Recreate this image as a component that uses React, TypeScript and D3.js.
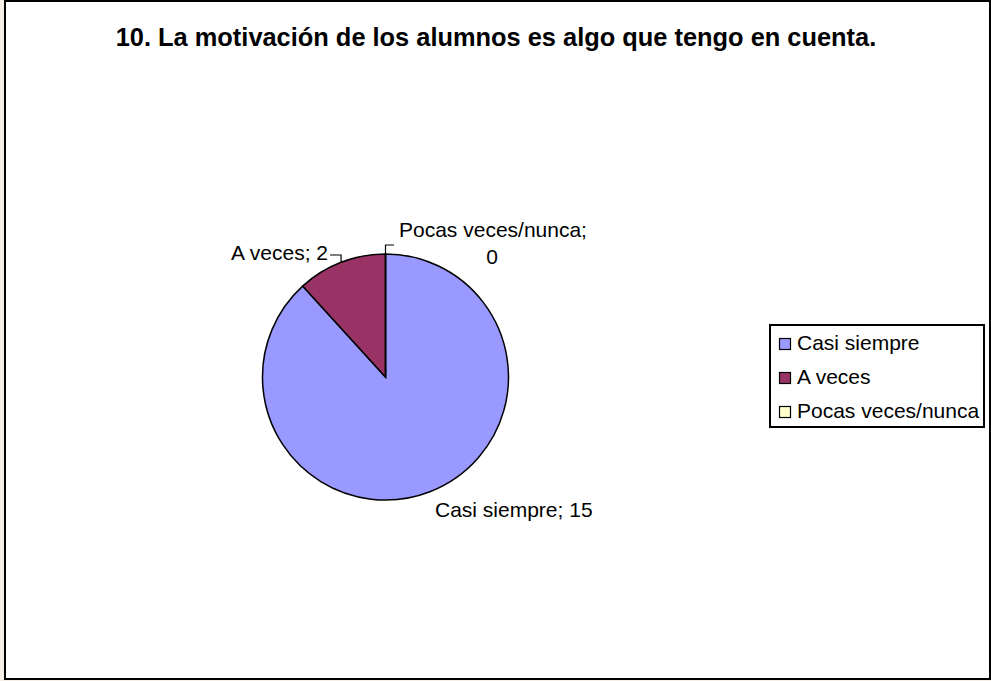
import React from "react";
import * as d3 from "d3";

const categories = ["Casi siempre", "A veces", "Pocas veces/nunca"];
const values = [15, 2, 0];
const colors = ["#9999FF", "#993366", "#FFFFCC"];
const title = "10. La motivación de los alumnos es algo que tengo en cuenta.";

const W = 991;
const H = 681;
const FONT = "'Liberation Sans', Arial, sans-serif";

export default function App() {
  const cx = 385.5;
  const cy = 377;
  const r = 123;
  const pie = d3
    .pie<number>()
    .sort(null)
    .startAngle(0)
    .endAngle(2 * Math.PI)
    .value((d) => d);
  const arcs = pie(values);
  const arcGen = d3.arc<d3.PieArcDatum<number>>().innerRadius(0).outerRadius(r);

  const pt = (a: number, rad: number) => [cx + rad * Math.sin(a), cy - rad * Math.cos(a)];
  const mid = (d: d3.PieArcDatum<number>) => (d.startAngle + d.endAngle) / 2;

  const aV = arcs[1];
  const pV = arcs[2];
  const [ax, ay] = pt(mid(aV), r);
  const [px, py] = pt(mid(pV), r);

  const legendX = 770;
  const legendY = 325;
  const legendW = 214;
  const legendH = 102;
  const rowH = 34;

  return (
    <svg
      width={W}
      height={H}
      style={{ position: "absolute", left: 0, top: 0, display: "block" }}
      fontFamily={FONT}
    >
      <rect x={0} y={0} width={W} height={H} fill="#F5EFE6" />
      <rect x={5} y={1} width={985} height={678} fill="#FFFFFF" stroke="#000" strokeWidth={2} />
      <text x={496} y={46} textAnchor="middle" fontWeight="bold" fontSize={25.4} fill="#000">
        {title}
      </text>
      <g>
        {arcs.map((d, i) => (
          <path
            key={i}
            d={arcGen(d) || ""}
            transform={`translate(${cx},${cy})`}
            fill={colors[i]}
            stroke="#000"
            strokeWidth={1.5}
          />
        ))}
      </g>
      {/* leader lines */}
      <polyline
        points={`${ax},${ay} ${ax},${255} ${330},${255}`}
        fill="none"
        stroke="#000"
        strokeWidth={1.2}
      />
      <polyline
        points={`${px},${py} ${px},${245} ${394},${245}`}
        fill="none"
        stroke="#000"
        strokeWidth={1.2}
      />
      {/* labels */}
      <text x={328} y={260} textAnchor="end" fontSize={21} fill="#000">
        {`${categories[1]}; ${values[1]}`}
      </text>
      <text x={399} y={237} fontSize={21} fill="#000">
        {`${categories[2]};`}
      </text>
      <text x={492} y={264} textAnchor="middle" fontSize={21} fill="#000">
        {`${values[2]}`}
      </text>
      <text x={435} y={517} fontSize={21} fill="#000">
        {`${categories[0]}; ${values[0]}`}
      </text>
      {/* legend */}
      <rect x={legendX} y={legendY} width={legendW} height={legendH} fill="#FFF" stroke="#000" strokeWidth={2} />
      {categories.map((c, i) => (
        <g key={c}>
          <rect
            x={legendX + 9.5}
            y={legendY + 13.5 + i * rowH}
            width={11}
            height={11}
            fill={colors[i]}
            stroke="#000"
            strokeWidth={1.2}
          />
          <text x={legendX + 27} y={legendY + 25 + i * rowH} fontSize={21} fill="#000">
            {c}
          </text>
        </g>
      ))}
    </svg>
  );
}
